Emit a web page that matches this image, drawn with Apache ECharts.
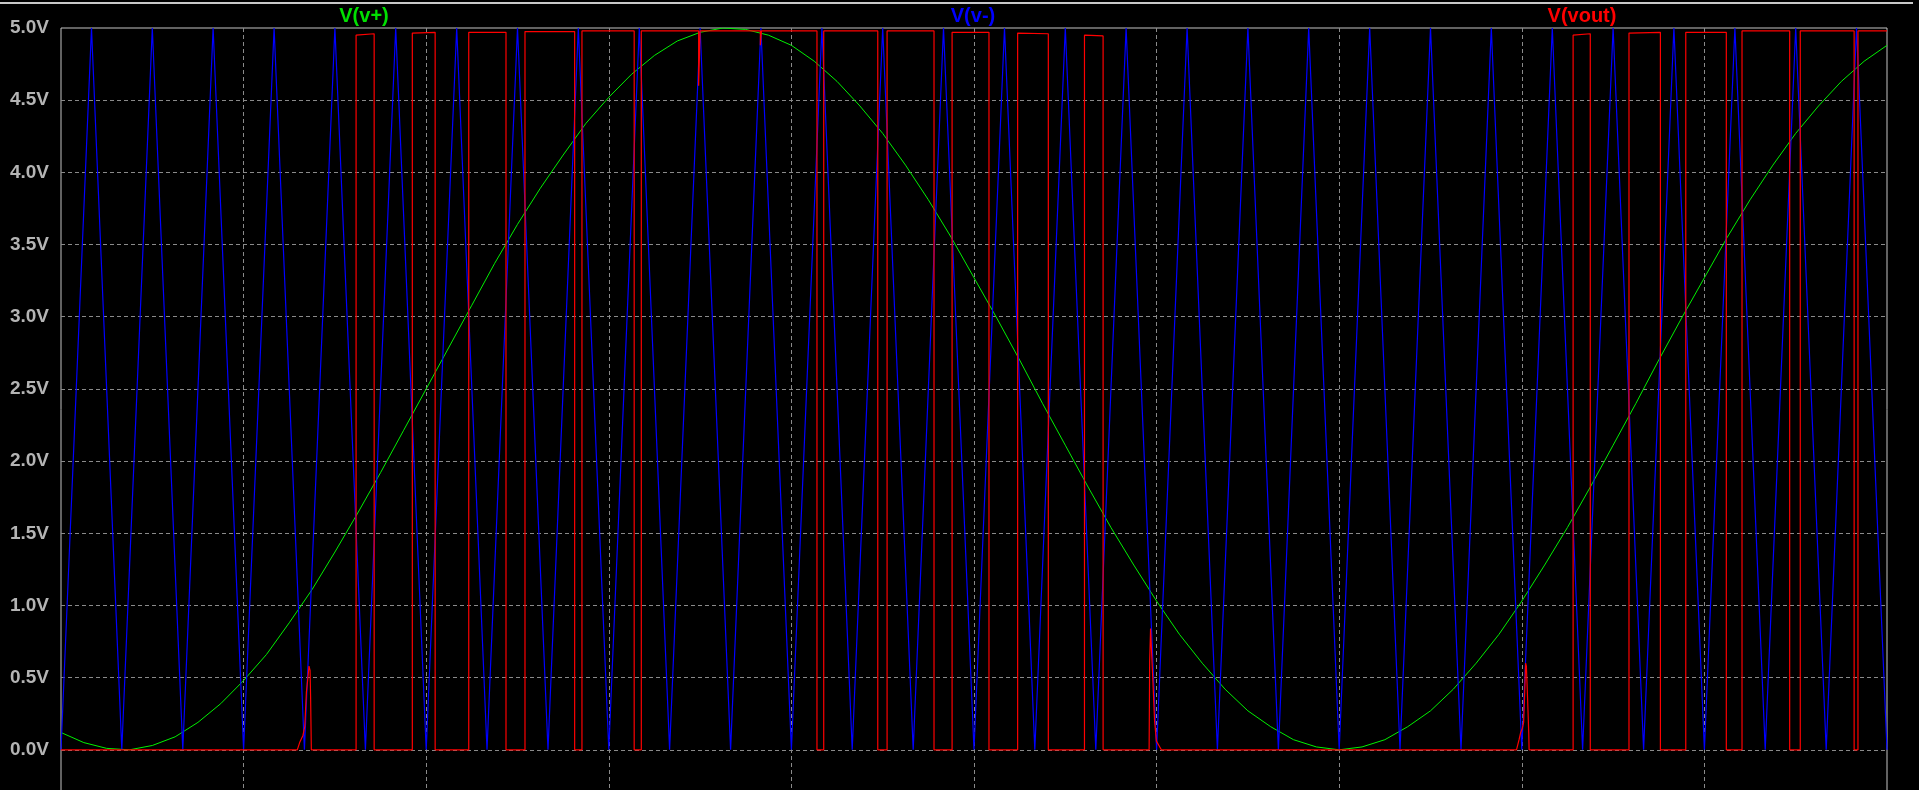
<!DOCTYPE html>
<html><head><meta charset="utf-8">
<script src="https://cdn.jsdelivr.net/npm/echarts@6/dist/echarts.min.js"></script>
<style>html,body{margin:0;padding:0;background:#000;overflow:hidden}#c{width:1919px;height:790px}</style>
</head><body><div id="c"></div>
<script>
// ---- data (time in ms, voltage in V) ----
const seriesNames = ['V(v+)', 'V(v-)', 'V(vout)'];
const yTickValues = [0, 0.5, 1, 1.5, 2, 2.5, 3, 3.5, 4, 4.5, 5];

// V(v+) : sine, sampled every 0.125 ms
const sineT = [0,0.125,0.25,0.375,0.5,0.625,0.75,0.875,1,1.125,1.25,1.375,1.5,1.625,1.75,1.875,2,2.125,2.25,2.375,
               2.5,2.625,2.75,2.875,3,3.125,3.25,3.375,3.5,3.625,3.75,3.875,4,4.125,4.25,4.375,4.5,4.625,4.75,4.875,
               5,5.125,5.25,5.375,5.5,5.625,5.75,5.875,6,6.125,6.25,6.375,6.5,6.625,6.75,6.875,7,7.125,7.25,7.375,
               7.5,7.625,7.75,7.875,8,8.125,8.25,8.375,8.5,8.625,8.75,8.875,9,9.125,9.25,9.375,9.5,9.625,9.75,9.875,10];
const sineV = [0.12,0.05,0.01,0.00,0.03,0.09,0.19,0.32,0.48,0.66,0.88,1.11,1.37,1.64,1.92,2.21,2.50,2.79,3.08,3.37,
               3.64,3.89,4.12,4.34,4.52,4.68,4.81,4.91,4.97,5.00,4.99,4.95,4.88,4.77,4.63,4.46,4.27,4.05,3.81,3.55,
               3.27,2.99,2.70,2.40,2.11,1.82,1.54,1.28,1.03,0.80,0.60,0.42,0.27,0.16,0.07,0.02,0.00,0.02,0.07,0.16,
               0.27,0.42,0.60,0.80,1.03,1.28,1.54,1.82,2.11,2.40,2.70,2.99,3.27,3.55,3.81,4.05,4.27,4.46,4.63,4.77,4.88];

// V(v-) : triangle, vertex times and values
const triT = [0,0.167,0.333,0.5,0.667,0.833,1,1.167,1.333,1.5,1.667,1.833,2,2.167,2.333,2.5,2.667,2.833,3,3.167,
              3.333,3.5,3.667,3.833,4,4.167,4.333,4.5,4.667,4.833,5,5.167,5.333,5.5,5.667,5.833,6,6.167,6.333,6.5,
              6.667,6.833,7,7.167,7.333,7.5,7.667,7.833,8,8.167,8.333,8.5,8.667,8.833,9,9.167,9.333,9.5,9.667,9.833,10];
const triV = [0,5,0,5,0,5,0,5,0,5,0,5,0,5,0,5,0,5,0,5,
              0,5,0,5,0,5,0,5,0,5,0,5,0,5,0,5,0,5,0,5,
              0,5,0,5,0,5,0,5,0,5,0,5,0,5,0,5,0,5,0,5,0];

// V(vout) : output pulses (rise time, fall time, level at rise, level at fall)
const pulseRise = [1.616,1.924,2.233,2.541,2.853,3.178,4.177,4.524,4.880,5.239,5.605,8.281,8.587,8.898,9.206,9.525,9.841];
const pulseFall = [1.715,2.049,2.437,2.813,3.139,4.140,4.473,4.781,5.082,5.407,5.707,8.375,8.759,9.120,9.467,9.820,10];
const pulseTopA = [4.95,4.965,4.97,4.975,4.98,4.98,4.98,4.98,4.97,4.965,4.95,4.95,4.965,4.97,4.98,4.98,4.98];
const pulseTopB = [4.96,4.97,4.97,4.975,4.98,4.98,4.98,4.98,4.97,4.96,4.945,4.96,4.97,4.97,4.98,4.98,4.98];
// partial dips inside pulses
const dipStart = [3.492, 3.830];
const dipEnd   = [3.500, 3.836];
const dipLevel = [4.60, 4.88];
// small spikes
const spikeT = [
  [1.294,1.307,1.325,1.335,1.344,1.353,1.358,1.364,1.367,1.371],
  [5.959,5.962,5.967,5.971,5.980,5.989,5.999,6.026],
  [7.971,7.985,7.994,8.003,8.010,8.016,8.021,8.025,8.031,8.038,8.040]
];
const spikeV = [
  [0,0.05,0.10,0.16,0.40,0.51,0.58,0.55,0.36,0],
  [0,0.61,0.84,0.72,0.47,0.20,0.06,0],
  [0,0.07,0.12,0.15,0.19,0.40,0.60,0.58,0.38,0.12,0]
];

// ---- build series data ----
const greenData = sineT.map((t, i) => [t, sineV[i]]);
const blueData = triT.map((t, i) => [t, triV[i]]);

const feats = [];
pulseRise.forEach((r, i) => {
  const f = pulseFall[i], a = pulseTopA[i], b = pulseTopB[i];
  const lvl = t => a + (b - a) * (t - r) / (f - r);
  const pts = [[r, 0], [r, a]];
  dipStart.forEach((d0, j) => {
    if (d0 > r && d0 < f) {
      const d1 = dipEnd[j];
      pts.push([d0, lvl(d0)], [d0, dipLevel[j]], [d1, dipLevel[j]], [d1, lvl(d1)]);
    }
  });
  pts.push([f, b]);
  if (f < 10) pts.push([f, 0]);
  feats.push(pts);
});
spikeT.forEach((ts, i) => feats.push(ts.map((t, k) => [t, spikeV[i][k]])));
feats.sort((p, q) => p[0][0] - q[0][0]);
const redData = [[0, 0]];
feats.forEach(p => p.forEach(pt => redData.push(pt)));

// ---- chart ----
const chart = echarts.init(document.getElementById('c'), null, {renderer: 'canvas'});
const gridCol = '#8a8a8a';
chart.setOption({
  animation: false,
  backgroundColor: '#000000',
  grid: {left: 61, top: 28, width: 1826, height: 794, show: true, borderColor: '#c4c4c4', borderWidth: 1,
         containLabel: false, outerBoundsMode: 'none'},
  xAxis: {
    type: 'value', min: 0, max: 10, interval: 1,
    axisLine: {show: false}, axisTick: {show: false}, axisLabel: {show: false},
    splitLine: {show: true, showMinLine: false, showMaxLine: false, lineStyle: {color: gridCol, type: [4, 3], width: 1}}
  },
  yAxis: {
    type: 'value', min: -0.5, max: 5, interval: 0.5,
    axisLine: {show: false}, axisTick: {show: false},
    axisLabel: {
      margin: 12, color: '#b4b4b4', fontSize: 19, fontWeight: 'bold', fontFamily: 'Liberation Sans, Arial, sans-serif',
      formatter: v => (yTickValues.some(y => Math.abs(y - v) < 1e-6) ? v.toFixed(1) + 'V' : '')
    },
    splitLine: {show: true, showMinLine: false, showMaxLine: false, lineStyle: {color: gridCol, type: [4, 3], width: 1}}
  },
  series: [
    {name: seriesNames[0], type: 'line', data: greenData, showSymbol: false, sampling: 'none',
     lineStyle: {color: '#00f000', width: 1}, silent: true},
    {name: seriesNames[1], type: 'line', data: blueData, showSymbol: false, sampling: 'none',
     lineStyle: {color: '#0000ff', width: 1.2}, silent: true},
    {name: seriesNames[2], type: 'line', data: redData, showSymbol: false, sampling: 'none',
     lineStyle: {color: '#ff0000', width: 1.2}, silent: true}
  ],
  graphic: [
    {type: 'line', shape: {x1: 0, y1: 3, x2: 1913, y2: 3}, style: {stroke: '#c8c8c8', lineWidth: 2}},
    {type: 'text', x: 364, y: 16, style: {text: seriesNames[0], fill: '#00e000', font: 'bold 20px "Liberation Sans", Arial, sans-serif', textAlign: 'center', textVerticalAlign: 'middle'}},
    {type: 'text', x: 973, y: 16, style: {text: seriesNames[1], fill: '#0000ff', font: 'bold 20px "Liberation Sans", Arial, sans-serif', textAlign: 'center', textVerticalAlign: 'middle'}},
    {type: 'text', x: 1582, y: 16, style: {text: seriesNames[2], fill: '#ff0000', font: 'bold 20px "Liberation Sans", Arial, sans-serif', textAlign: 'center', textVerticalAlign: 'middle'}}
  ]
});
</script></body></html>
